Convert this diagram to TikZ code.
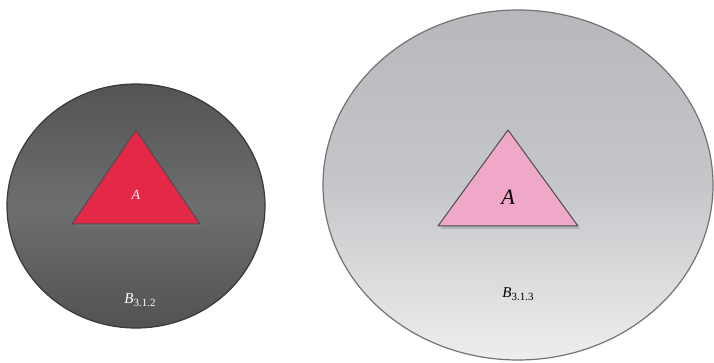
\documentclass[tikz,border=0pt]{standalone}
\usepackage{fontspec}
\setmainfont{Liberation Serif}
\usetikzlibrary{shadows}
\definecolor{darkrim}{RGB}{55,57,58}
\definecolor{darktop}{RGB}{82,84,86}
\definecolor{darkmid}{RGB}{108,110,112}
\definecolor{darkbot}{RGB}{80,82,84}
\definecolor{lighttop}{RGB}{182,184,188}
\definecolor{lightmid}{RGB}{196,198,201}
\definecolor{lightbot}{RGB}{238,238,238}
\definecolor{redtri}{RGB}{228,40,72}
\definecolor{pinktri}{RGB}{240,168,200}
\newcommand{\subidx}[1]{\raisebox{-3.5pt}{\fontsize{11}{11}\selectfont #1}}
\tikzset{
  disc/.style={line width=1.2pt},
  tri/.style={draw=black!70, line width=1pt, line join=round,
    drop shadow={shadow xshift=2pt, shadow yshift=-3pt, opacity=0.35}},
  lbl/.style={inner sep=0pt}
}
\begin{document}
\begin{tikzpicture}[x=1pt,y=-1pt]
\useasboundingbox (0,0) rectangle (714,363);
\fill[white] (0,0) rectangle (714,363);
% left disc
\shade[disc, draw=darkrim, top color=darktop, bottom color=darkbot, middle color=darkmid]
  (136,206) ellipse [x radius=129, y radius=122];
% right disc
\shade[disc, draw=black!55, top color=lighttop, bottom color=lightbot, middle color=lightmid]
  (518,185) ellipse [x radius=195, y radius=175];
% triangles
\filldraw[tri, fill=redtri] (136,130) -- (200,224) -- (72,224) -- cycle;
\filldraw[tri, fill=pinktri] (508,130) -- (578,226) -- (438,226) -- cycle;
% labels
\node[lbl, text=white!85!pink, font=\fontsize{14}{14}\selectfont\itshape] (a1) at (136,195) {A};
\node[lbl, font=\fontsize{22}{22}\selectfont\itshape] (a2) at (508,197) {A};
\node[lbl, text=white, font=\fontsize{15}{15}\selectfont] (b1) at (140,300) {\textit{B}\subidx{3.1.2}};
\node[lbl, font=\fontsize{15}{15}\selectfont] (b2) at (518,294) {\textit{B}\subidx{3.1.3}};
\end{tikzpicture}
\end{document}
